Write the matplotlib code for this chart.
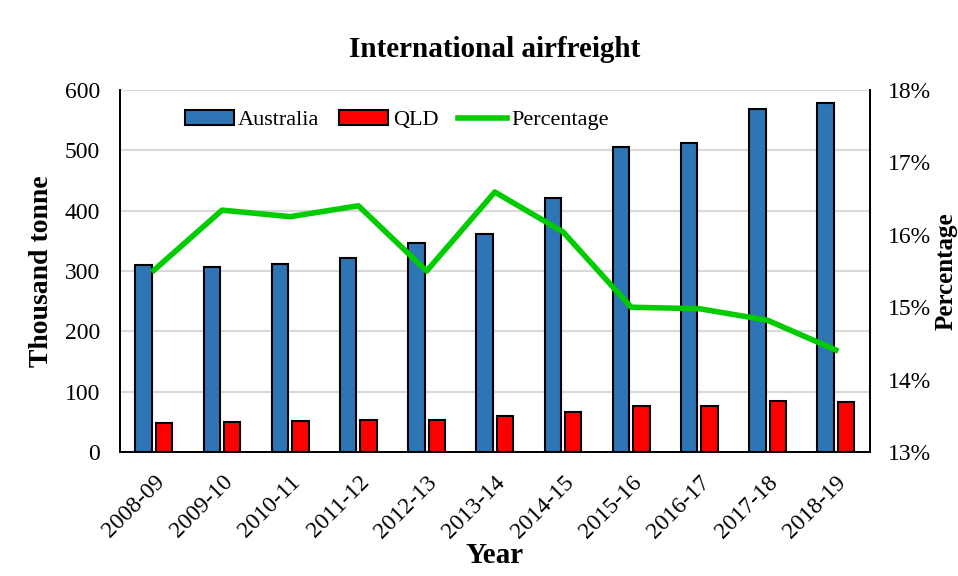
import matplotlib.pyplot as plt
import numpy as np
from matplotlib.ticker import FuncFormatter

plt.rcParams['font.family'] = ['Liberation Serif', 'DejaVu Serif']

years = ["2008-09", "2009-10", "2010-11", "2011-12", "2012-13", "2013-14",
         "2014-15", "2015-16", "2016-17", "2017-18", "2018-19"]
australia = [310, 306, 312, 322, 347, 362, 421, 505, 512, 568, 579]
qld = [48, 50, 51, 53, 54, 60, 67, 76, 77, 84, 83]
percentage = [15.51, 16.34, 16.25, 16.40, 15.50, 16.59, 16.04, 15.00, 14.98, 14.82, 14.41]

fig = plt.figure(figsize=(9.58, 5.76), dpi=100)
ax = fig.add_axes([0.125, 0.215, 0.783, 0.629])
ax2 = ax.twinx()

x = np.arange(len(years))
w = 0.24
b1 = ax.bar(x - w/2 - 0.03, australia, w, color="#2E75B6", edgecolor="black", linewidth=1.5, label="Australia", zorder=3)
b2 = ax.bar(x + w/2 + 0.03, qld, w, color="#FF0000", edgecolor="black", linewidth=1.5, label="QLD", zorder=3)
l1, = ax2.plot(x, percentage, color="#00CC00", linewidth=4, label="Percentage", zorder=4)

ax.set_xlim(-0.5, len(years) - 0.5)
ax.set_ylim(0, 600)
ax.set_yticks(range(0, 601, 100))
ax2.set_ylim(13, 18)
ax2.set_yticks(range(13, 19))
ax2.yaxis.set_major_formatter(FuncFormatter(lambda v, p: "%d%%" % v))

ax.grid(axis="y", color="#D9D9D9", linewidth=1.5, zorder=0)
ax.set_axisbelow(True)
ax.set_xticks(x)
ax.set_xticklabels(years, rotation=45, ha="right", rotation_mode="anchor")
ax.tick_params(axis="y", labelsize=17, length=0, pad=14)
ax.tick_params(axis="x", labelsize=17, length=0, pad=14)
ax2.tick_params(axis="y", labelsize=17, length=0, pad=13)

for a in (ax, ax2):
    a.spines["top"].set_visible(False)
    for s in ("left", "right", "bottom"):
        a.spines[s].set_linewidth(1.3)

ax.set_title("International airfreight", fontsize=21, fontweight="bold", pad=24)
ax.set_xlabel("Year", fontsize=21, fontweight="bold", labelpad=0)
ax.set_ylabel("Thousand tonne", fontsize=20, fontweight="bold", va="center")
ax.yaxis.set_label_coords(-0.104, 0.5)
ax2.set_ylabel("Percentage", fontsize=18, fontweight="bold", va="center")
ax2.yaxis.set_label_coords(1.1013, 0.5)

ax.legend([b1, b2, l1], ["Australia", "QLD", "Percentage"], loc="upper left",
          bbox_to_anchor=(0.06, 1.0), ncol=3, frameon=False, fontsize=16,
          handlelength=2.2, columnspacing=0.9, handletextpad=0.2)

fig.savefig("out.png", dpi=100)
